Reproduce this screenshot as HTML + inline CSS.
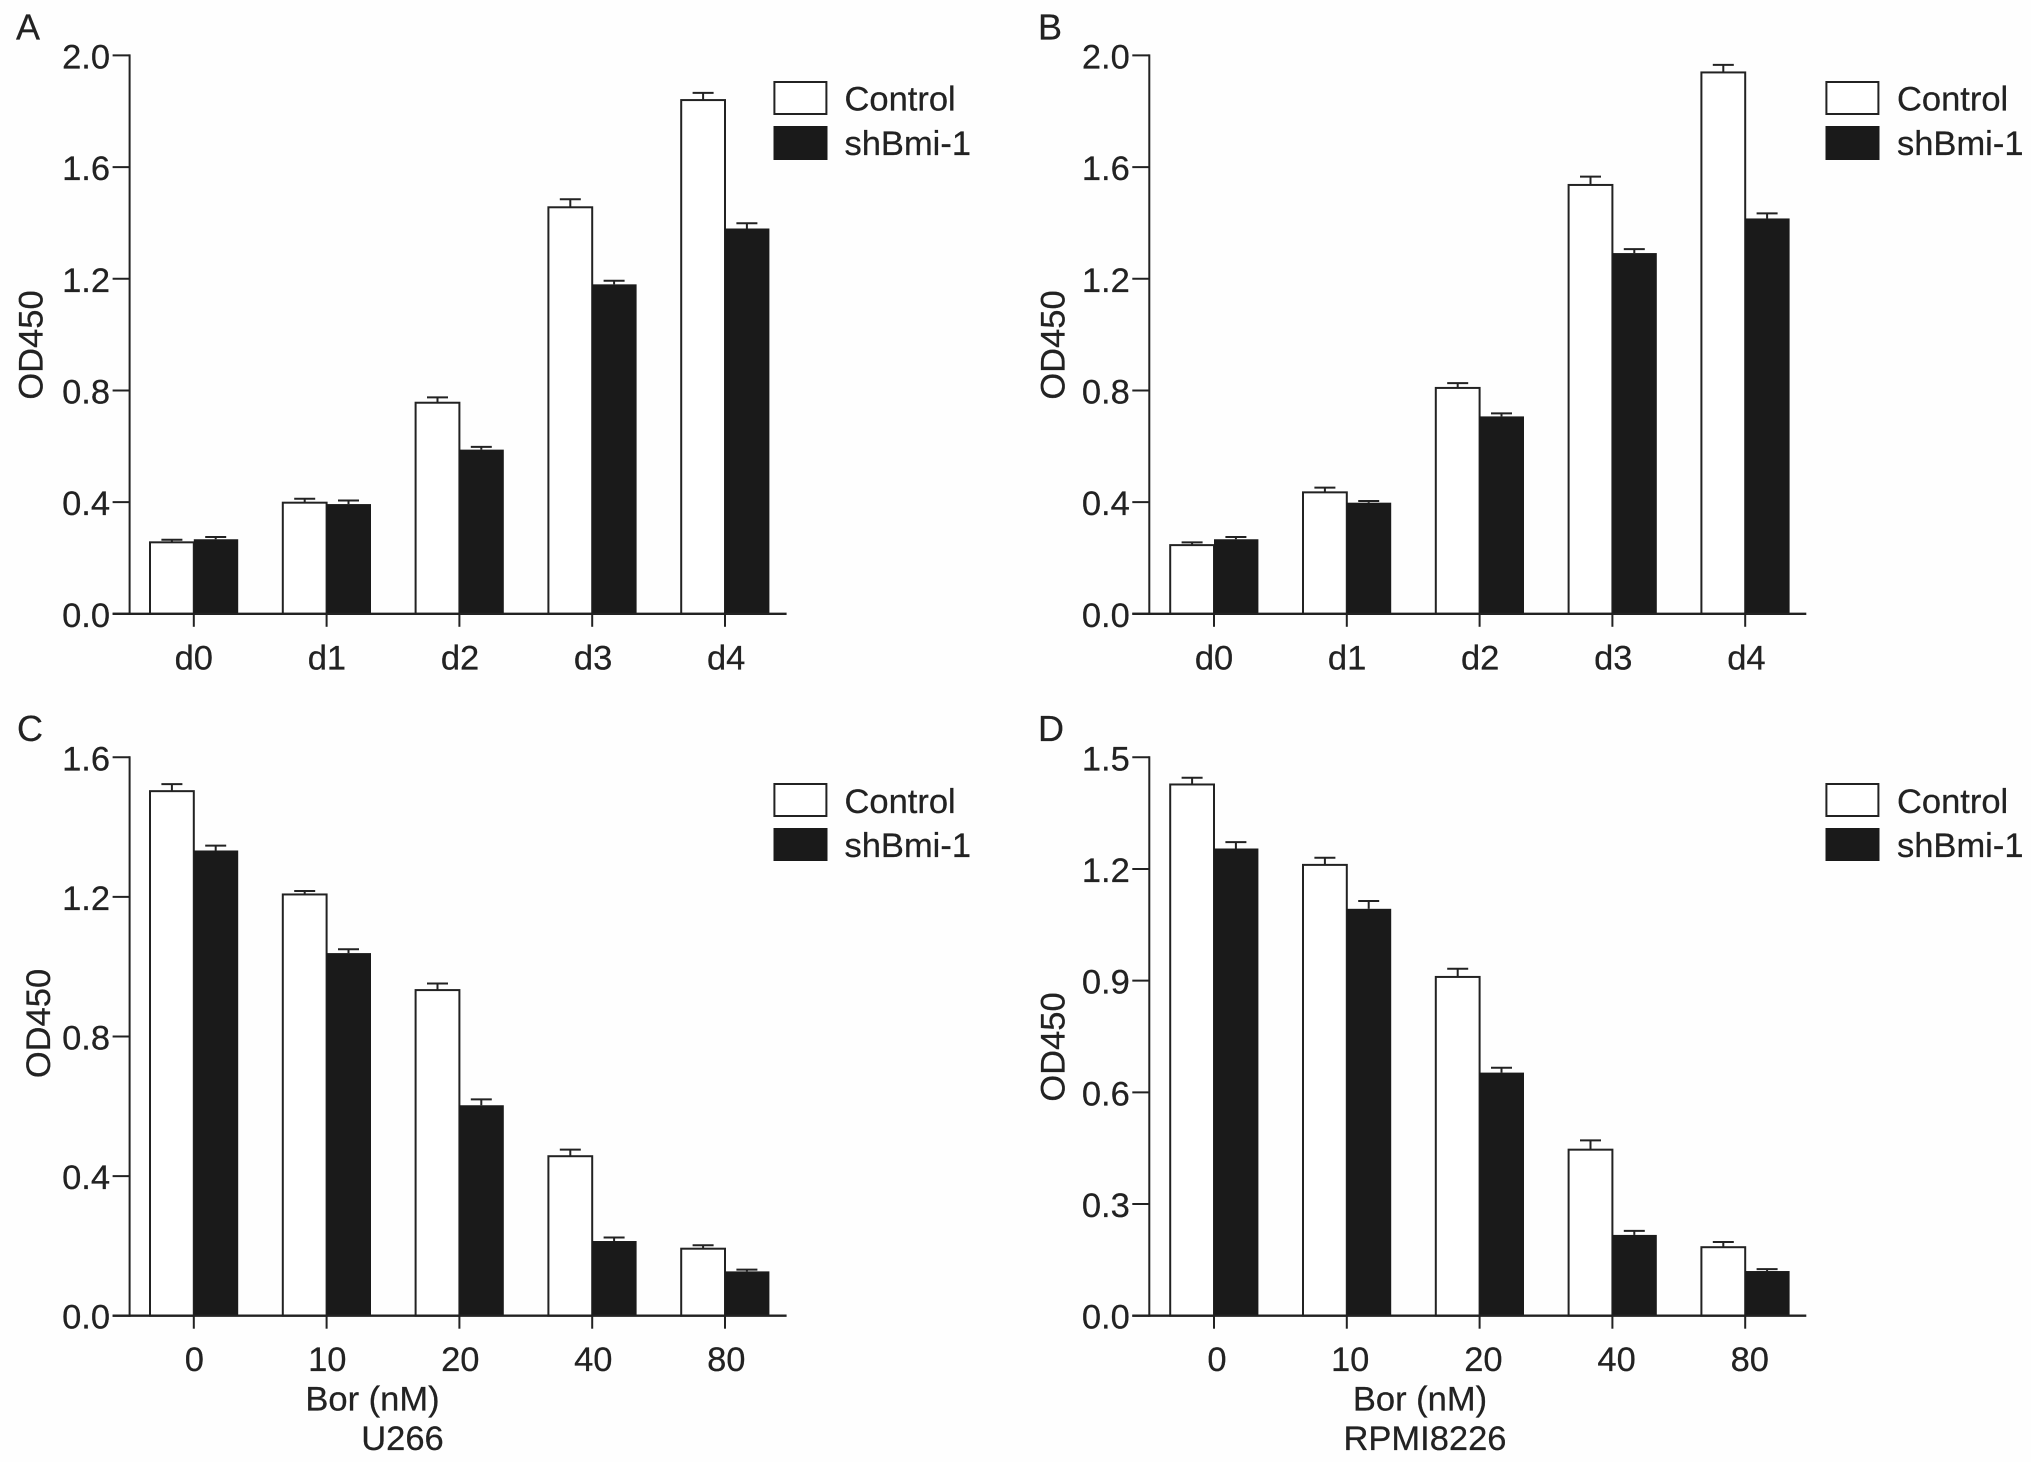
<!DOCTYPE html>
<html lang="en">
<head>
<meta charset="utf-8">
<title>OD450 bar charts</title>
<style>
html,body{margin:0;padding:0;background:#fefefe;}
svg{display:block;}
text{font-family:"Liberation Sans",sans-serif;font-size:34.5px;fill:#222;stroke:#222;stroke-width:0.25px;}
</style>
</head>
<body>
<svg id="figure" width="2031" height="1462" viewBox="0 0 2031 1462" xmlns="http://www.w3.org/2000/svg">
  <rect x="0" y="0" width="2031" height="1462" fill="#fefefe"/>
  <text x="16" y="39.5" style="font-size:36px">A</text>
  <text x="1038" y="39.5" style="font-size:36px">B</text>
  <text x="17" y="741" style="font-size:36px">C</text>
  <text x="1038" y="741" style="font-size:36px">D</text>

  <text transform="translate(42.5 345) rotate(-90)" text-anchor="middle">OD450</text>
  <text transform="translate(1064.5 345) rotate(-90)" text-anchor="middle">OD450</text>
  <text transform="translate(50 1023.5) rotate(-90)" text-anchor="middle">OD450</text>
  <text transform="translate(1064.5 1047) rotate(-90)" text-anchor="middle">OD450</text>

  <g>
    <rect x="774.4" y="82" width="52" height="32" fill="#fff" stroke="#222" stroke-width="2"/>
    <rect x="773.5" y="126" width="54" height="34" fill="#1a1a1a"/>
    <text x="844.5" y="110.5">Control</text>
    <text x="844.5" y="155">shBmi-1</text>
  </g>
  <g>
    <rect x="1826.4" y="82" width="52" height="32" fill="#fff" stroke="#222" stroke-width="2"/>
    <rect x="1825.5" y="126" width="54" height="34" fill="#1a1a1a"/>
    <text x="1897" y="110.5">Control</text>
    <text x="1897" y="155">shBmi-1</text>
  </g>
  <g>
    <rect x="774.4" y="784" width="52" height="32" fill="#fff" stroke="#222" stroke-width="2"/>
    <rect x="773.5" y="828" width="54" height="33" fill="#1a1a1a"/>
    <text x="844.5" y="813">Control</text>
    <text x="844.5" y="857">shBmi-1</text>
  </g>
  <g>
    <rect x="1826.4" y="784" width="52" height="32" fill="#fff" stroke="#222" stroke-width="2"/>
    <rect x="1825.5" y="828" width="54" height="33" fill="#1a1a1a"/>
    <text x="1897" y="813">Control</text>
    <text x="1897" y="857">shBmi-1</text>
  </g>

  <text x="372.5" y="1410.5" text-anchor="middle">Bor (nM)</text>
  <text x="402.5" y="1450" text-anchor="middle">U266</text>
  <text x="1420" y="1410.5" text-anchor="middle">Bor (nM)</text>
  <text x="1425" y="1450" text-anchor="middle">RPMI8226</text>
</svg>
<script>
// Categories and tick labels
const dayCategories = ['d0', 'd1', 'd2', 'd3', 'd4'];
const doseCategories = ['0', '10', '20', '40', '80'];
const ticksAB = [0.0, 0.4, 0.8, 1.2, 1.6, 2.0];
const ticksC = [0.0, 0.4, 0.8, 1.2, 1.6];
const ticksD = [0.0, 0.3, 0.6, 0.9, 1.2, 1.5];

// Panel A
const controlA = [0.256, 0.398, 0.756, 1.456, 1.840];
const controlUpperA = [0.265, 0.412, 0.775, 1.485, 1.866];
const shBmiA = [0.267, 0.393, 0.588, 1.180, 1.380];
const shBmiUpperA = [0.275, 0.406, 0.598, 1.193, 1.399];

// Panel B
const controlB = [0.246, 0.435, 0.809, 1.536, 1.939];
const controlUpperB = [0.256, 0.452, 0.826, 1.566, 1.966];
const shBmiB = [0.267, 0.398, 0.707, 1.292, 1.416];
const shBmiUpperB = [0.275, 0.404, 0.718, 1.306, 1.434];

// Panel C
const controlC = [1.503, 1.207, 0.933, 0.457, 0.192];
const controlUpperC = [1.523, 1.217, 0.952, 0.476, 0.202];
const shBmiC = [1.333, 1.039, 0.603, 0.214, 0.127];
const shBmiUpperC = [1.347, 1.050, 0.620, 0.224, 0.132];

// Panel D
const controlD = [1.427, 1.211, 0.910, 0.446, 0.184];
const controlUpperD = [1.445, 1.230, 0.932, 0.471, 0.198];
const shBmiD = [1.255, 1.093, 0.653, 0.217, 0.120];
const shBmiUpperD = [1.272, 1.114, 0.666, 0.228, 0.125];

const SVG_NS = 'http://www.w3.org/2000/svg';
const INK = '#222';
const FILL_DARK = '#1a1a1a';
const figure = document.getElementById('figure');

function make(parent, tag, attrs) {
  const node = document.createElementNS(SVG_NS, tag);
  for (const key in attrs) node.setAttribute(key, attrs[key]);
  parent.appendChild(node);
  return node;
}

function drawPanel(cats, ticks, control, controlUpper, shBmi, shBmiUpper, yMax, geo) {
  const group = make(figure, 'g', {});
  
  

  const xScale = i => geo.firstCenter + i * geo.step;
  const yScale = v => geo.baseY - (v / yMax) * (geo.baseY - geo.topY);
  const barW = 43.8;
  const capW = 21;

  // Bars and error bars, per category
  cats.forEach((cat, i) => {
    const cx = xScale(i);
    const cTop = yScale(control[i]);
    const cUp = yScale(controlUpper[i]);
    const sTop = yScale(shBmi[i]);
    const sUp = yScale(shBmiUpper[i]);

    const stemC = make(group, 'line', {x1: cx - barW / 2, x2: cx - barW / 2, y1: cTop, y2: cUp, stroke: INK, 'stroke-width': 2});
    
    

    const capC = make(group, 'line', {x1: cx - barW / 2 - capW / 2, x2: cx - barW / 2 + capW / 2, y1: cUp, y2: cUp, stroke: INK, 'stroke-width': 2});
    
    

    const stemS = make(group, 'line', {x1: cx + barW / 2, x2: cx + barW / 2, y1: sTop, y2: sUp, stroke: INK, 'stroke-width': 2});
    
    

    const capS = make(group, 'line', {x1: cx + barW / 2 - capW / 2, x2: cx + barW / 2 + capW / 2, y1: sUp, y2: sUp, stroke: INK, 'stroke-width': 2});
    
    

    const barC = make(group, 'rect', {x: cx - barW, y: cTop, width: barW, height: geo.baseY - cTop, fill: '#fff', stroke: INK, 'stroke-width': 2});
    
    

    const barS = make(group, 'rect', {x: cx, y: sTop, width: barW + 0.6, height: geo.baseY - sTop, fill: FILL_DARK, stroke: 'none'});
    
    

    const tick = make(group, 'line', {x1: cx, x2: cx, y1: geo.baseY, y2: geo.baseY + 13, stroke: INK, 'stroke-width': 2});
    
    

    const label = make(group, 'text', {x: cx + geo.labelDx + i * geo.labelDrift, y: geo.labelY, 'text-anchor': 'middle'});
    label.textContent = cat;
    
    
  });

  // Axes
  const xAxis = make(group, 'line', {x1: geo.axisX - 17, x2: geo.axisX + 657, y1: geo.baseY, y2: geo.baseY, stroke: INK, 'stroke-width': 2.4});
  
  

  const yAxis = make(group, 'line', {x1: geo.axisX, x2: geo.axisX, y1: geo.topY - 1, y2: geo.baseY + 1, stroke: INK, 'stroke-width': 2});
  
  

  ticks.forEach(t => {
    const y = yScale(t);
    const tick = make(group, 'line', {x1: geo.axisX - 17, x2: geo.axisX, y1: y, y2: y, stroke: INK, 'stroke-width': 2});
    
    

    const label = make(group, 'text', {x: geo.axisX - 19.5, y: y + 13, 'text-anchor': 'end'});
    label.textContent = t.toFixed(1);
    
    
  });
}

drawPanel(dayCategories, ticksAB, controlA, controlUpperA, shBmiA, shBmiUpperA, 2.0,
  {axisX: 129.6, firstCenter: 193.8, step: 132.8, topY: 55.4, baseY: 613.8, labelY: 669.5, labelDx: 0, labelDrift: 0.3});
drawPanel(dayCategories, ticksAB, controlB, controlUpperB, shBmiB, shBmiUpperB, 2.0,
  {axisX: 1149.3, firstCenter: 1214, step: 132.8, topY: 55.4, baseY: 613.8, labelY: 669.5, labelDx: 0, labelDrift: 0.3});
drawPanel(doseCategories, ticksC, controlC, controlUpperC, shBmiC, shBmiUpperC, 1.6,
  {axisX: 129.6, firstCenter: 193.8, step: 132.8, topY: 757.3, baseY: 1315.7, labelY: 1371, labelDx: 0.5, labelDrift: 0.2});
drawPanel(doseCategories, ticksD, controlD, controlUpperD, shBmiD, shBmiUpperD, 1.5,
  {axisX: 1149.3, firstCenter: 1214, step: 132.8, topY: 757.3, baseY: 1315.7, labelY: 1371, labelDx: 3, labelDrift: 0.4});
</script>
</body>
</html>
